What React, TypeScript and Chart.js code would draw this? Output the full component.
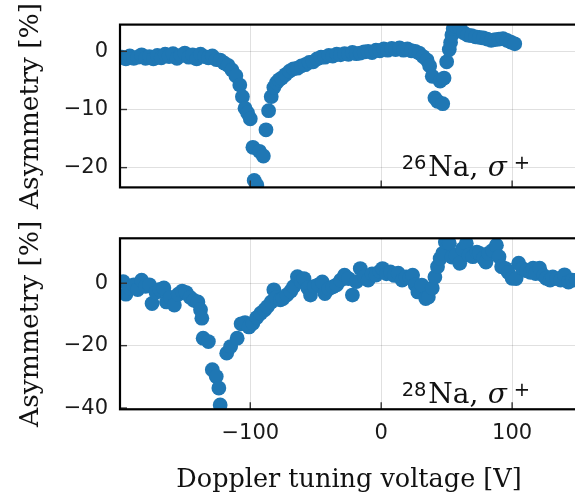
import React, { useEffect, useRef } from "react";
import { Chart, registerables } from "chart.js";

Chart.register(...registerables);

// ---------- data ----------
const xTicks = [-100, 0, 100];
const topYTicks = [0, -10, -20];
const bottomYTicks = [0, -20, -40];

const na26Voltage = [
  -198, -195, -192, -189, -186, -183, -180, -177, -174, -171, -168, -165, -162, -159, -156, -153,
  -150, -147, -144, -141, -138, -135, -132, -129, -126, -123, -120, -117, -114, -111, -108, -106,
  -104, -102, -100, -98, -97, -95, -93, -90, -88, -86, -84, -82, -80, -78, -76, -73, -70, -67,
  -64, -61, -58, -55, -52, -49, -46, -43, -40, -37, -34, -31, -28, -25, -22, -19, -16, -13, -10,
  -7, -4, -1, 2, 5, 8, 11, 14, 17, 20, 23, 26, 29, 32, 35, 37, 39, 41, 43, 45, 47, 48, 50, 52, 53,
  54, 55, 57, 60, 63, 66, 69, 72, 75, 78, 81, 84, 87, 90, 93, 96, 99, 102,
];
const na26Asym = [
  -1.0, -1.3, -0.8, -1.2, -1.0, -0.6, -1.2, -0.9, -1.3, -0.7, -1.1, -0.5, -0.9, -0.4, -1.2, -0.7,
  -0.3, -1.0, -0.6, -1.3, -0.5, -0.9, -1.1, -0.8, -1.4, -1.5, -2.0, -2.4, -3.2, -4.2, -5.8, -7.8,
  -9.8, -10.6, -11.6, -16.5, -22.2, -23.0, -17.2, -18.0, -13.5, -10.2, -7.8, -6.2, -5.4, -4.9, -4.6, -4.0, -3.4, -3.0,
  -2.9, -2.5, -2.3, -1.9, -1.8, -1.3, -1.0, -1.0, -0.7, -0.8, -0.5, -0.6, -0.4, -0.5, -0.2, -0.4, -0.3, -0.1, 0.0,
  -0.2, 0.2, 0.1, 0.4, 0.2, 0.5, 0.3, 0.6, 0.2, 0.4, 0.1, 0.0, -0.3, -0.9, -1.5, -2.5, -4.3, -8.0, -8.6, -5.1, -9.0, -4.6, -1.8, 0.3, 1.5,
  2.8, 3.9, 4.3, 4.1, 3.2, 2.8, 2.7, 2.5, 2.4, 2.3, 2.1, 1.9, 2.0, 2.1, 2.2, 1.9, 1.6, 1.3,
];

const na28Voltage = [
  -197, -195, -192, -189, -186, -183, -180, -177, -175, -172, -169, -166, -164, -161, -158, -155,
  -152, -149, -146, -143, -140, -138, -137, -136, -132, -129, -126, -124, -123, -118, -115, -110,
  -107, -104, -101, -98, -95, -92, -89, -87, -84, -82, -80, -77, -75, -72, -69, -67, -64, -61,
  -59, -56, -54, -51, -48, -45, -43, -40, -37, -34, -31, -28, -25, -22, -19, -16, -13, -10, -7,
  -4, -1, 1, 4, 7, 10, 13, 16, 19, 22, 24, 26, 28, 31, 34, 36, 39, 41, 43, 45, 47, 49, 52, 54,
  57, 60, 62, 65, 67, 70, 73, 75, 78, 80, 82, 85, 88, 90, 92, 95, 97, 100, 103, 105, 108, 111,
  114, 116, 118, 121, 124, 126, 129, 131, 134, 137, 140, 143, 146, 149,
];
const na28Asym = [
  0.5, -3.5, -1.5, -0.5, -2.0, 1.0, -1.0, -0.5, -6.5, -3.0, -2.0, -1.5, -6.0, -4.5, -7.0, -3.5,
  -2.5, -3.0, -4.5, -5.5, -6.0, -8.5, -11.2, -17.6, -18.7, -27.7, -29.9, -33.6, -39.0, -22.4, -20.3, -17.6,
  -13.0, -12.6, -14.0, -12.8, -11.0, -9.6, -8.5, -7.5, -6.0, -2.1, -4.5, -5.3, -4.9, -3.7, -2.5, -1.1, 2.1, 0.5,
  1.5, -1.5, -3.8, -1.0, -0.5, 0.4, -3.3, -1.8, -1.2, -0.5, 1.0, 2.6, 1.5, -3.8, 0.5, 4.7, 2.0, 1.0, 3.0,
  2.6, 3.8, 4.7, 3.0, 3.6, 2.5, 3.2, 1.0, 2.0, 1.8, 2.6, -0.5, -2.8, -0.6, -4.9, -4.4, -1.5, 2.0, 5.3, 7.9, 9.6, 13.2, 12.8, 8.4,
  9.0, 6.4, 11.0, 12.8, 9.0, 8.5, 10.0, 9.6, 8.0, 6.8, 9.6, 10.5, 12.2, 8.5, 5.3, 4.7, 3.5, 1.6, 1.5, 6.4, 4.7, 4.0,
  3.5, 4.8, 3.1, 4.8, 2.5, 1.6, 1.0, 2.0, 1.5, 1.0, 2.7, 0.4, 1.0, 1.0,
];

const X_MIN = -199.5;
const X_MAX = 150;
const BLUE = "#1f77b4";
const SERIF = '"DejaVu Serif", serif';
const SANS = '"DejaVu Sans", sans-serif';

const fmt = (v: number) => (v < 0 ? "\u2212" + Math.abs(v) : String(v));

const framePlugin = {
  id: "frame",
  afterDatasetsDraw(chart: any, _args: any, opts: any) {
    const { ctx, chartArea: a, scales } = chart;
    ctx.save();
    // inward tick marks
    ctx.strokeStyle = "#333";
    ctx.lineWidth = 1.4;
    for (const v of opts.yTicks) {
      const y = scales.y.getPixelForValue(v);
      ctx.beginPath();
      ctx.moveTo(a.left, y);
      ctx.lineTo(a.left + 7, y);
      ctx.stroke();
    }
    for (const v of xTicks) {
      const x = scales.x.getPixelForValue(v);
      ctx.beginPath();
      ctx.moveTo(x, a.bottom);
      ctx.lineTo(x, a.bottom - 7);
      ctx.stroke();
    }
    // frame
    ctx.strokeStyle = "#000";
    ctx.lineWidth = 2.2;
    ctx.strokeRect(a.left, a.top, a.right - a.left, a.bottom - a.top);

    // annotation
    ctx.fillStyle = "#111";
    ctx.textAlign = "left";
    ctx.textBaseline = "alphabetic";
    const x0 = a.left + 281.7;
    const base = a.bottom - opts.labelOffset;
    ctx.font = "19.5px " + SANS;
    ctx.fillText(opts.mass, x0, base - 7);
    ctx.font = "28px " + SERIF;
    ctx.fillText("Na,", x0 + 26.5, base);
    ctx.font = "italic 28px " + SERIF;
    ctx.fillText("\u03c3", x0 + 86, base);
    ctx.font = "19.5px " + SANS;
    ctx.fillText("+", x0 + 112, base - 7);

    // y title
    ctx.save();
    ctx.translate(38, (a.top + a.bottom) / 2);
    ctx.rotate(-Math.PI / 2);
    ctx.textAlign = "center";
    ctx.font = "26.5px " + SERIF;
    ctx.fillText("Asymmetry [%]", 0, 0);
    ctx.restore();

    if (opts.xTitle) {
      ctx.textAlign = "center";
      ctx.font = "25.5px " + SERIF;
      ctx.fillText("Doppler tuning voltage [V]", (a.left + 579) / 2 - 0.5, a.bottom + 78);
    }
    ctx.restore();
  },
};

function makeConfig(
  vx: number[],
  vy: number[],
  yMin: number,
  yMax: number,
  yTicks: number[],
  mass: string,
  padTop: number,
  xAxisHeight: number,
  padBottom: number,
  showX: boolean,
  labelOffset: number
): any {
  return {
    type: "scatter",
    data: {
      datasets: [
        {
          data: vx.map((x, i) => ({ x, y: vy[i] })),
          backgroundColor: BLUE,
          borderWidth: 0,
          pointRadius: 7.4,
          pointHoverRadius: 7.4,
          clip: 0,
        },
      ],
    },
    options: {
      animation: false,
      responsive: false,
      events: [],
      layout: { padding: { left: 0, top: padTop, right: 6, bottom: padBottom } },
      plugins: {
        legend: { display: false },
        tooltip: { enabled: false },
        frame: { yTicks, mass, xTitle: showX, labelOffset },
      },
      scales: {
        x: {
          type: "linear",
          min: X_MIN,
          max: X_MAX,
          afterBuildTicks: (s: any) => {
            s.ticks = xTicks.map((v) => ({ value: v }));
          },
          afterFit: (s: any) => {
            s.height = xAxisHeight;
          },
          grid: { color: "rgba(0,0,0,0.12)", lineWidth: 1, drawTicks: false },
          border: { display: false },
          ticks: {
            display: showX,
            padding: 12,
            color: "#1a1a1a",
            font: { family: "DejaVu Sans", size: 21 },
            callback: (v: any) => fmt(Number(v)),
            maxRotation: 0,
          },
        },
        y: {
          type: "linear",
          min: yMin,
          max: yMax,
          afterBuildTicks: (s: any) => {
            s.ticks = yTicks.map((v) => ({ value: v }));
          },
          afterFit: (s: any) => {
            s.width = 120;
          },
          grid: { color: "rgba(0,0,0,0.12)", lineWidth: 1, drawTicks: false },
          border: { display: false },
          ticks: {
            padding: 12,
            color: "#1a1a1a",
            font: { family: "DejaVu Sans", size: 21 },
            callback: (v: any) => fmt(Number(v)),
          },
        },
      },
    },
    plugins: [framePlugin],
  };
}

export default function App() {
  const topRef = useRef<HTMLCanvasElement>(null);
  const botRef = useRef<HTMLCanvasElement>(null);

  useEffect(() => {
    const c1 = new Chart(
      topRef.current as HTMLCanvasElement,
      makeConfig(na26Voltage, na26Asym, -23.4, 4.6, topYTicks, "26", 23.3, 0, 17, false, 11.7)
    );
    const c2 = new Chart(
      botRef.current as HTMLCanvasElement,
      makeConfig(na28Voltage, na28Asym, -40.4, 14.4, bottomYTicks, "28", 26.3, 82.7, 0, true, 6.6)
    );
    return () => {
      c1.destroy();
      c2.destroy();
    };
  }, []);

  return (
    <div
      style={{
        position: "fixed",
        left: 0,
        top: 0,
        width: 575,
        height: 492,
        overflow: "hidden",
        background: "#fff",
      }}
    >
      <canvas
        ref={topRef}
        width={585}
        height={212}
        style={{ position: "absolute", left: 0, top: 0, width: 585, height: 212 }}
      />
      <canvas
        ref={botRef}
        width={585}
        height={280}
        style={{ position: "absolute", left: 0, top: 212, width: 585, height: 280 }}
      />
    </div>
  );
}
